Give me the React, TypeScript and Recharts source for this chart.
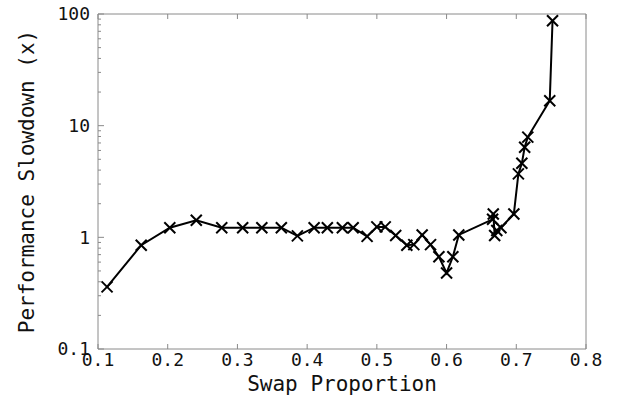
import { LineChart, Line, XAxis, YAxis } from "recharts";

const swapProportion = [
  0.113, 0.162, 0.203, 0.241, 0.2775, 0.3075, 0.335, 0.363, 0.386, 0.41,
  0.429, 0.4505, 0.466, 0.486, 0.5, 0.512, 0.527, 0.543, 0.553, 0.565,
  0.577, 0.589, 0.6, 0.609, 0.6175, 0.666, 0.667, 0.669, 0.672, 0.678,
  0.6965, 0.703, 0.708, 0.712, 0.7165, 0.748, 0.752,
];
const slowdown = [
  0.36, 0.85, 1.22, 1.42, 1.22, 1.22, 1.22, 1.22, 1.03, 1.22,
  1.22, 1.22, 1.22, 1.02, 1.24, 1.24, 1.04, 0.85, 0.86, 1.05,
  0.86, 0.67, 0.48, 0.67, 1.05, 1.45, 1.62, 1.04, 1.15, 1.22,
  1.62, 3.7, 4.6, 6.4, 7.9, 16.7, 87,
];
const xTicks = [0.1, 0.2, 0.3, 0.4, 0.5, 0.6, 0.7, 0.8];
const yMajor = [0.1, 1, 10, 100];
const yTicks = [
  0.1, 0.2, 0.3, 0.4, 0.5, 0.6, 0.7, 0.8, 0.9,
  1, 2, 3, 4, 5, 6, 7, 8, 9,
  10, 20, 30, 40, 50, 60, 70, 80, 90, 100,
];

const data = swapProportion.map((x, i) => ({ x, y: slowdown[i] }));

const FONT = "'DejaVu Sans Mono', 'Liberation Mono', monospace";
const FRAME = "#8a8a8a";
const MARGIN_Y = 8;
const MARGIN_X = 3;

function Cross(props: any) {
  const { cx, cy } = props;
  if (cx == null || cy == null) return null;
  const r = 5.5;
  return (
    <g stroke="#000" strokeWidth={2}>
      <line x1={cx - r} y1={cy - r} x2={cx + r} y2={cy + r} />
      <line x1={cx - r} y1={cy + r} x2={cx + r} y2={cy - r} />
    </g>
  );
}

function LeftTick(props: any) {
  const { x, y, payload } = props;
  const major = yMajor.includes(payload.value);
  const x0 = x + MARGIN_Y;
  return (
    <g>
      <line x1={x0} y1={y} x2={x0 + (major ? 6 : 3)} y2={y} stroke={FRAME} />
      {major && (
        <text x={x} y={y} dy="0.35em" textAnchor="end" fontSize={18} fontFamily={FONT} fill="#111">
          {payload.value}
        </text>
      )}
    </g>
  );
}

function RightTick(props: any) {
  const { x, y, payload } = props;
  const major = yMajor.includes(payload.value);
  const x0 = x - 2;
  return <line x1={x0} y1={y} x2={x0 - (major ? 6 : 3)} y2={y} stroke={FRAME} />;
}

function BottomTick(props: any) {
  const { x, y, payload } = props;
  const y0 = y - MARGIN_X;
  return (
    <g>
      <line x1={x} y1={y0} x2={x} y2={y0 - 5} stroke={FRAME} />
      <text x={x} y={y} dy="0.78em" textAnchor="middle" fontSize={18} fontFamily={FONT} fill="#111">
        {payload.value.toFixed(1)}
      </text>
    </g>
  );
}

function TopTick(props: any) {
  const { x, y } = props;
  const y0 = y + 2;
  return <line x1={x} y1={y0} x2={x} y2={y0 + 5} stroke={FRAME} />;
}

export default function App() {
  return (
    <div style={{ position: "absolute", left: 0, top: 0, background: "#fff" }}>
      <LineChart width={626} height={406} data={data} margin={{ top: 13, right: 39, left: 0, bottom: 0 }}>
        <XAxis
          xAxisId="bottom"
          dataKey="x"
          type="number"
          domain={[0.1, 0.8]}
          ticks={xTicks}
          interval={0}
          height={57}
          tickSize={0}
          tickMargin={MARGIN_X}
          tickLine={false}
          axisLine={{ stroke: FRAME }}
          tick={<BottomTick />}
          label={{
            value: "Swap Proportion",
            position: "insideBottom",
            offset: 15,
            fontSize: 21,
            fontFamily: FONT,
            fill: "#111",
          }}
        />
        <XAxis
          xAxisId="top"
          dataKey="x"
          type="number"
          orientation="top"
          domain={[0.1, 0.8]}
          ticks={xTicks}
          interval={0}
          height={1}
          tickSize={0}
          tickMargin={2}
          tickLine={false}
          axisLine={{ stroke: FRAME }}
          tick={<TopTick />}
        />
        <YAxis
          yAxisId="left"
          scale="log"
          type="number"
          domain={[0.1, 100]}
          ticks={yTicks}
          interval={0}
          width={98}
          tickSize={0}
          tickMargin={MARGIN_Y}
          tickLine={false}
          axisLine={{ stroke: FRAME }}
          tick={<LeftTick />}
          label={{
            value: "Performance Slowdown (x)",
            angle: -90,
            position: "insideLeft",
            offset: 27,
            fontSize: 21,
            fontFamily: FONT,
            fill: "#111",
            style: { textAnchor: "middle" },
          }}
        />
        <YAxis
          yAxisId="right"
          orientation="right"
          scale="log"
          type="number"
          domain={[0.1, 100]}
          ticks={yTicks}
          interval={0}
          width={1}
          tickSize={0}
          tickMargin={2}
          tickLine={false}
          axisLine={{ stroke: FRAME }}
          tick={<RightTick />}
        />
        <Line
          xAxisId="bottom"
          yAxisId="left"
          dataKey="y"
          type="linear"
          stroke="#000"
          strokeWidth={2}
          dot={<Cross />}
          activeDot={false}
          isAnimationActive={false}
        />
      </LineChart>
    </div>
  );
}
